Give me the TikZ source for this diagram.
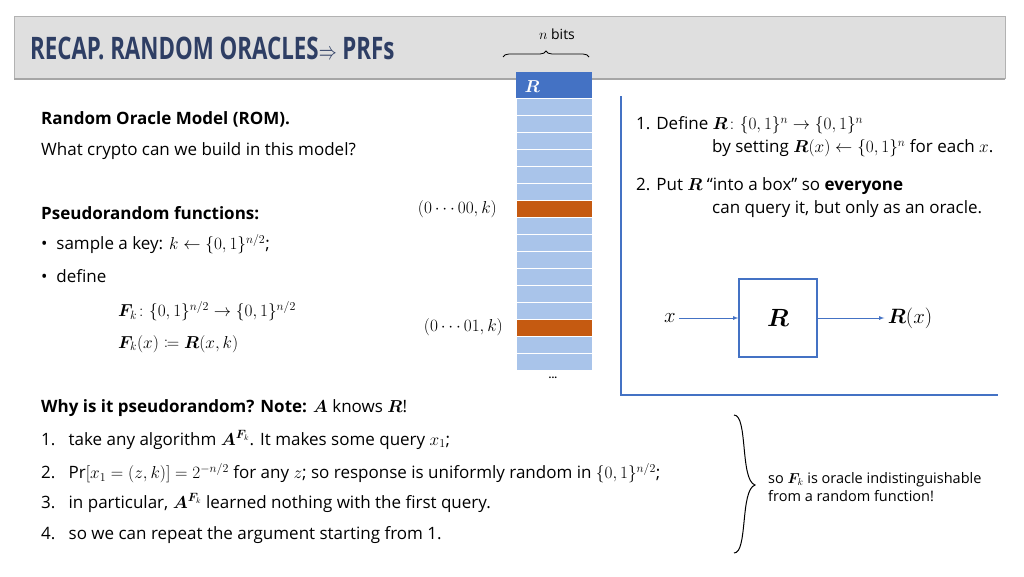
\documentclass[tikz,border=0pt]{standalone}
\usepackage{fontspec}
\usepackage{amsmath,mathtools,bm}
\setmainfont{Open Sans}
\usetikzlibrary{decorations.pathreplacing}
\definecolor{rowb}{HTML}{A9C4EA}
\definecolor{rowd}{HTML}{4472C4}
\definecolor{org}{HTML}{C55A11}
\definecolor{ttl}{HTML}{2E3E64}
\tikzset{txt/.style={anchor=west,inner sep=0pt,font=\fontsize{17}{20}\selectfont},
 line/.style={draw=rowd,line width=1.2pt}}
\begin{document}
\begin{tikzpicture}[x=1pt,y=-1pt]
\useasboundingbox (0,0) rectangle (1024,576);
\fill[white] (0,0) rectangle (1024,576);
\fill[gray!25] (14,16) rectangle (1005,78);
\draw[gray!60] (14,16) rectangle (1005,78);
\draw[gray!70,line width=1.5pt] (14,79)--(1005,79);
\node[anchor=west,inner sep=0pt,text=ttl,font=\fontsize{31}{34}\selectfont\bfseries,xscale=0.72] (title) at (30,48) {RECAP. RANDOM ORACLES$\Rightarrow$ PRFs};
% table
\fill[rowd] (516,72) rectangle (592,98);
\node[anchor=west,text=white,font=\fontsize{18}{20}\selectfont] (rr) at (521,87) {$\bm{R}$};
\foreach \i in {0,...,15}{
  \pgfmathsetmacro{\yy}{98+17*\i}
  \ifnum\i=6 \fill[org,draw=white] (516,\yy) rectangle (592,\yy+17);
  \else\ifnum\i=13 \fill[org,draw=white] (516,\yy) rectangle (592,\yy+17);
  \else \fill[rowb,draw=white] (516,\yy) rectangle (592,\yy+17);\fi\fi}
\node[inner sep=0pt] (dots) at (553,378) {\textbf{...}};
\draw[decorate,decoration={brace,amplitude=6pt},thick] (503,57) -- (589,57);
\node[inner sep=0pt,font=\fontsize{14}{16}\selectfont] (nb) at (557,34) {$n$ bits};
\node[anchor=east,inner sep=0pt,font=\fontsize{17}{20}\selectfont] (r1) at (497,209) {$(0\cdots00,k)$};
\node[anchor=east,inner sep=0pt,font=\fontsize{17}{20}\selectfont] (r2) at (503,327) {$(0\cdots01,k)$};
% left text
\node[txt] at (41,119) {\bfseries Random Oracle Model (ROM).};
\node[txt] at (41,151) {What crypto can we build in this model?};
\node[txt] at (41,213) {\bfseries Pseudorandom functions:};
\node[txt] at (41,244) {•\ \ sample a key: $k\leftarrow\{0,1\}^{n/2}$;};
\node[txt] at (41,276) {•\ \ define};
\node[txt] at (118,311) {$\bm{F}_k\colon\{0,1\}^{n/2}\rightarrow\{0,1\}^{n/2}$};
\node[txt] at (118,344) {$\bm{F}_k(x)\coloneqq \bm{R}(x,k)$};
\node[txt] at (41,408) {\bfseries Why is it pseudorandom? Note: $\bm{A}$ \mdseries knows $\bm{R}$!};
\node[txt] at (41,440) {1.\ \ \ take any algorithm $\bm{A}^{\bm{F}_k}$. It makes some query $x_1$;};
\node[txt] at (41,473) {2.\ \ \ $\Pr[x_1=(z,k)]=2^{-n/2}$ for any $z$; so response is uniformly random in $\{0,1\}^{n/2}$;};
\node[txt] at (41,503) {3.\ \ \ in particular, $\bm{A}^{\bm{F}_k}$ learned nothing with the first query.};
\node[txt] at (41,535) {4.\ \ \ so we can repeat the argument starting from 1.};
\draw[line width=1pt] (734,415) .. controls (748,415) and (740,480) .. (755,485) .. controls (740,490) and (748,553) .. (734,553);
\node[anchor=west,inner sep=0pt,align=left,font=\fontsize{14.5}{18}\selectfont] at (768,487) {so $\bm{F}_k$ is oracle indistinguishable\\from a random function!};
% right panel
\draw[line] (621,96) -- (621,395) -- (998,395);
\node[txt] at (636,125) {1. Define $\bm{R}\colon\{0,1\}^n\rightarrow\{0,1\}^n$};
\node[txt] at (712,148) {by setting $\bm{R}(x)\leftarrow\{0,1\}^n$ for each $x$.};
\node[txt] at (636,186) {2. Put $\bm{R}$ ``into a box'' so \textbf{everyone}};
\node[txt] at (712,209) {can query it, but only as an oracle.};
\node[draw=rowd,line width=1.5pt,minimum width=78pt,minimum height=78pt,font=\fontsize{28}{30}\selectfont] (box) at (778,318) {$\bm{R}$};
\node[font=\fontsize{22}{24}\selectfont] (x) at (670,318) {$x$};
\node[font=\fontsize{22}{24}\selectfont] (rx) at (910,318) {$\bm{R}(x)$};
\draw[rowd,thick,-latex] (x) -- (box);
\draw[rowd,thick,-latex] (box) -- (rx);
\end{tikzpicture}
\end{document}
